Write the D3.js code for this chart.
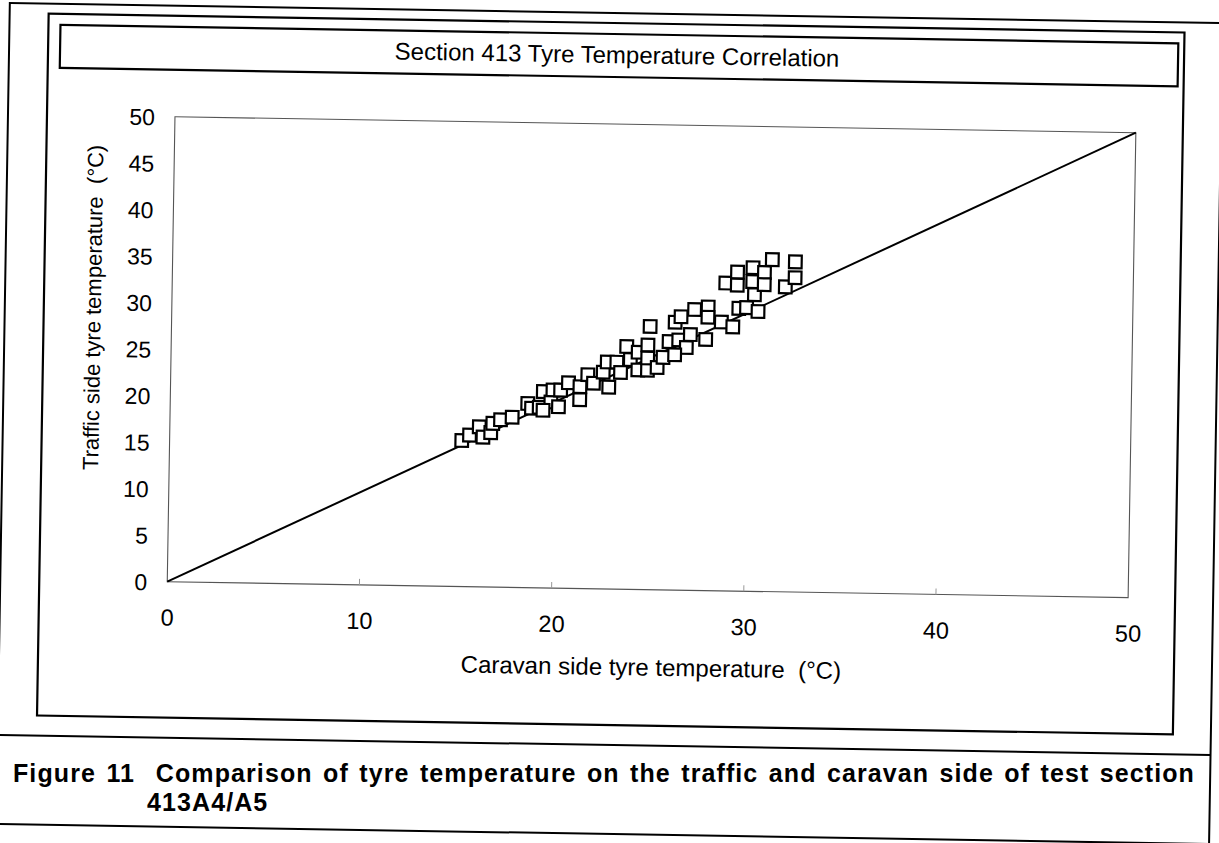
<!DOCTYPE html>
<html>
<head>
<meta charset="utf-8">
<script src="https://cdn.jsdelivr.net/npm/d3@7"></script>
<style>
html,body{margin:0;padding:0;background:#fff;}
svg{display:block;}
text{font-family:"Liberation Sans",Arial,sans-serif;fill:#000;white-space:pre;}
</style>
</head>
<body>
<svg id="chart" width="1219" height="843"></svg>
<script>
// ---- data ----
const chartTitle = "Section 413 Tyre Temperature Correlation";
const xTitle = "Caravan side tyre temperature  (\u00B0C)";
const yTitle = "Traffic side tyre temperature  (\u00B0C)";
const captionLine1 = "Figure 11  Comparison of tyre temperature on the traffic and caravan side of test section";
const captionLine2 = "413A4/A5";
const xTicks = [0, 10, 20, 30, 40, 50];
const yTicks = [0, 5, 10, 15, 20, 25, 30, 35, 40, 45, 50];
const caravanTemp = [15.2,15.6,16.1,16.3,16.7,16.8,17.2,17.8,18.6,18.8,19.2,19.4,19.8,20.2,19.9,20.3,20.7,19.4,21.3,21.3,21.7,22.0,22.5,22.8,22.7,23.2,23.4,23.7,23.9,24.3,24.3,24.8,24.8,24.9,24.8,25.3,25.6,25.9,26.2,26.5,26.4,26.8,27.0,27.2,27.9,27.9,27.8,28.6,28.8,29.2,29.4,29.4,29.5,29.9,30.2,30.2,30.3,30.5,30.8,30.8,31.2,31.9,32.4,32.4,26.2];
const trafficTemp = [15.7,16.3,17.2,16.1,16.6,17.6,18.0,18.3,19.8,19.3,19.4,21.1,20.0,19.5,21.3,21.3,22.1,19.1,21.7,20.3,23.0,22.1,23.3,21.7,24.4,24.4,23.3,26.1,24.7,23.6,25.5,26.3,23.6,28.3,24.9,23.9,25.0,26.7,28.8,29.4,26.9,26.1,27.5,30.2,30.5,29.4,27.0,28.9,33.1,28.4,34.3,32.9,30.4,30.5,34.8,33.3,31.9,30.1,34.3,33.0,35.7,32.8,35.5,33.8,25.3];
const equalityLine = [[0,0],[50,50]];

// ---- layout ----
const svg = d3.select("#chart");
// the scanned page is tilted by about one degree
const root = svg.append("g").attr("transform", "rotate(0.95 610 420)");
const plot = {left:170, right:1131, top:124, bottom:589};
const x = d3.scaleLinear().domain([0,50]).range([plot.left, plot.right]);
const y = d3.scaleLinear().domain([0,50]).range([plot.bottom, plot.top]);

// outer page frame
root.append("rect").attr("x",3).attr("y",13).attr("width",1213).attr("height",900)
  .attr("fill","none").attr("stroke","#000").attr("stroke-width",2);
// chart frame
root.append("rect").attr("x",42).attr("y",23).attr("width",1136).attr("height",702)
  .attr("fill","none").attr("stroke","#000").attr("stroke-width",2.2);
// title box
root.append("rect").attr("x",54).attr("y",34).attr("width",1118).attr("height",43)
  .attr("fill","none").attr("stroke","#000").attr("stroke-width",2.2);
root.append("text").attr("x",611).attr("y",63).attr("text-anchor","middle")
  .style("font-size","24px").text(chartTitle);

// caption box lines
root.append("line").attr("x1",3).attr("x2",1216).attr("y1",745).attr("y2",745)
  .attr("stroke","#000").attr("stroke-width",2);
root.append("line").attr("x1",3).attr("x2",1216).attr("y1",834).attr("y2",834)
  .attr("stroke","#000").attr("stroke-width",2);

// plot border
root.append("rect").attr("x",plot.left).attr("y",plot.top)
  .attr("width",plot.right-plot.left).attr("height",plot.bottom-plot.top)
  .attr("fill","none").attr("stroke","#555").attr("stroke-width",1.1);

// axes
const xAxis = d3.axisBottom(x).tickValues(xTicks).tickSize(0).tickPadding(0).tickFormat(d3.format("d"));
const gx = root.append("g").attr("transform",`translate(0,${plot.bottom})`).call(xAxis);
gx.select(".domain").remove();
gx.selectAll("text").attr("dy",null).attr("y",44).style("font-size","23.5px")
  .style("font-family","'Liberation Sans',Arial,sans-serif").attr("fill","#000");
// small inside ticks on bottom border
root.append("g").selectAll("line").data(xTicks.slice(1,-1)).join("line")
  .attr("x1",d=>x(d)).attr("x2",d=>x(d)).attr("y1",plot.bottom).attr("y2",plot.bottom-6)
  .attr("stroke","#999").attr("stroke-width",1);

const yAxis = d3.axisLeft(y).tickValues(yTicks).tickSize(0).tickPadding(20).tickFormat(d3.format("d"));
const gy = root.append("g").attr("transform",`translate(${plot.left},0)`).call(yAxis);
gy.select(".domain").remove();
gy.selectAll("text").attr("dy","0.36em").style("font-size","23px")
  .style("font-family","'Liberation Sans',Arial,sans-serif").attr("fill","#000");

// axis titles
root.append("text").attr("x",655).attr("y",675).attr("text-anchor","middle")
  .style("font-size","24px").text(xTitle);
root.append("text").attr("transform","translate(99,316) rotate(-90)").attr("text-anchor","middle")
  .style("font-size","22px").text(yTitle);

// equality line
root.append("path").datum(equalityLine)
  .attr("d", d3.line().x(d=>x(d[0])).y(d=>y(d[1])))
  .attr("stroke","#000").attr("stroke-width",2).attr("fill","none");

// points
const sq = d3.symbol().type(d3.symbolSquare).size(160);
root.append("g").selectAll("path").data(caravanTemp.map((c,i)=>[c,trafficTemp[i]])).join("path")
  .attr("transform",d=>`translate(${x(d[0])},${y(d[1])})`)
  .attr("d",sq).attr("fill","#fff").attr("stroke","#000").attr("stroke-width",2.2);

// caption text (kept level so the two lines do not collide)
const cap1 = svg.append("text").attr("x",13).attr("y",782)
  .style("font-size","25px").style("font-weight","bold").style("letter-spacing","1.1px")
  .text(captionLine1);
const natural = cap1.node().getComputedTextLength();
const nSpaces = (captionLine1.match(/ /g) || []).length;
cap1.style("word-spacing", Math.max(0, (1182 - natural) / nSpaces) + "px");
svg.append("text").attr("x",147).attr("y",811)
  .style("font-size","25px").style("font-weight","bold").style("letter-spacing","1.1px")
  .text(captionLine2);
</script>
</body>
</html>
